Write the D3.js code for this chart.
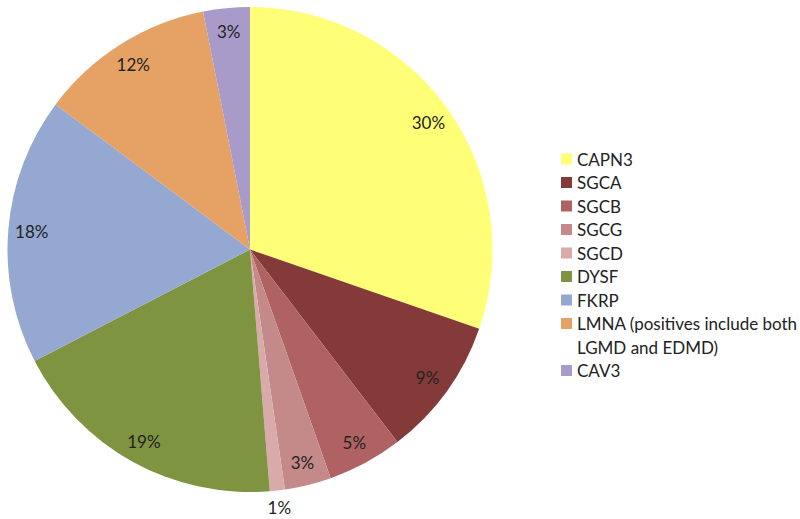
<!DOCTYPE html>
<html><head><meta charset="utf-8">
<script src="https://cdn.jsdelivr.net/npm/d3@7"></script>
<style>body{margin:0;background:#fff;} svg{display:block;}</style>
</head><body>
<svg id="chart" width="800" height="519"></svg>
<script>
const categories = ["CAPN3","SGCA","SGCB","SGCG","SGCD","DYSF","FKRP","LMNA (positives include both LGMD and EDMD)","CAV3"];
const legendLines = [["CAPN3"],["SGCA"],["SGCB"],["SGCG"],["SGCD"],["DYSF"],["FKRP"],["LMNA (positives include both","LGMD and EDMD)"],["CAV3"]];
const values = [30.3, 9.3, 5.0, 3.1, 1.0, 18.7, 17.8, 11.7, 3.1];
const colors = ["#FFFF77","#833A39","#B06262","#C48A89","#D9AAAA","#7E9441","#95A8D1","#E5A264","#A99BC9"];

const svg = d3.select("#chart");
const cx = 250, cy = 249.5, R = 242.5;
const font = "Lato, 'Open Sans', sans-serif";

const pie = d3.pie().sort(null).value(d => d)(values);
const arc = d3.arc().innerRadius(0).outerRadius(R);
const g = svg.append("g").attr("transform", `translate(${cx},${cy})`);
g.selectAll("path").data(pie).join("path")
  .attr("d", arc).attr("fill", (d,i) => colors[i]);

const total = d3.sum(values);
const labelArc = d3.arc().innerRadius(219).outerRadius(219);
const outArc = d3.arc().innerRadius(260).outerRadius(260);
g.selectAll("text").data(pie).join("text")
  .attr("transform", d => {
    const small = (d.data / total) < 0.02;
    const [x,y] = (small ? outArc : labelArc).centroid(d);
    return `translate(${x},${y})`;
  })
  .attr("text-anchor","middle").attr("dominant-baseline","central")
  .attr("font-family", font).attr("font-size", 17).attr("fill","#222")
  .text(d => Math.round(d.data / total * 100) + "%");

// legend
const lg = svg.append("g");
let y = 159;
const step = 23.5;
legendLines.forEach((lines, i) => {
  lg.append("rect").attr("x", 561).attr("y", y - 5.5).attr("width", 11).attr("height", 11).attr("fill", colors[i]);
  lines.forEach((t, j) => {
    lg.append("text").attr("x", 577).attr("y", y + j*step)
      .attr("dominant-baseline","central")
      .attr("font-family", font).attr("font-size", 17).attr("fill","#222").text(t);
  });
  y += step * lines.length;
});
</script>
</body></html>
